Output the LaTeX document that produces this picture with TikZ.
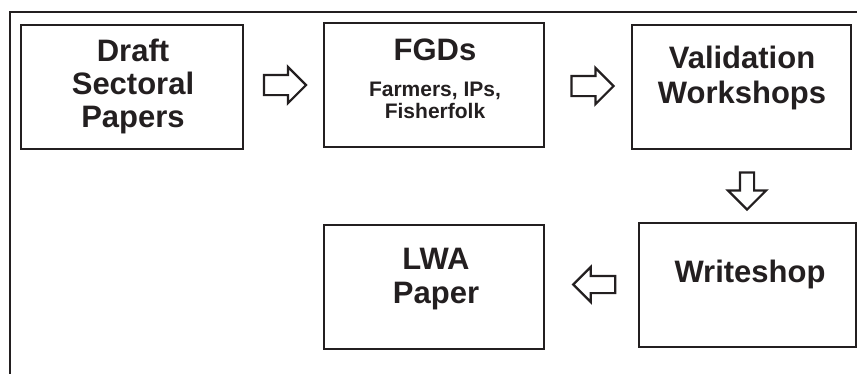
\documentclass[tikz,border=0pt]{standalone}
\usepackage{fontspec}
\setmainfont{Liberation Sans}
\usetikzlibrary{shapes.arrows}
\definecolor{ink}{RGB}{35,31,32}
\tikzset{
  stagebox/.style={draw=ink, line width=2pt, rectangle, inner sep=0pt, minimum width=#1, minimum height=124pt},
  big/.style={text=ink, anchor=base, inner sep=0pt, font=\fontsize{31}{34}\selectfont\bfseries},
  small/.style={text=ink, anchor=base, inner sep=0pt, font=\fontsize{21}{22}\selectfont\bfseries},
  blockarrow/.style={draw=ink, line width=2.2pt, fill=white, single arrow, single arrow head indent=0pt, inner sep=0pt},
  frameline/.style={draw=ink, line width=2.5pt}
}
\begin{document}
\begin{tikzpicture}[x=1pt,y=-1pt]
\useasboundingbox (0,0) rectangle (857,373);
% outer frame (top and left only)
\coordinate (fTR) at (858,12);
\coordinate (fTL) at (10,12);
\coordinate (fBL) at (10,374);
\draw[frameline] (fTR) -- (fTL) -- (fBL);
% boxes
\node[stagebox=222pt] (draft) at (132,87) {};
\node[stagebox=220pt] (fgd)   at (434,85) {};
\node[stagebox=219pt] (valid) at (741.5,87) {};
\node[stagebox=217pt] (write) at (747.5,285) {};
\node[stagebox=220pt] (lwa)   at (434,287) {};
% texts
\node[big] (t1a) at (133,61) {Draft};
\node[big] (t1b) at (133,94) {Sectoral};
\node[big] (t1c) at (133,127) {Papers};
\node[big] (t2a) at (435,60) {FGDs};
\node[small] (t2b) at (435,96) {Farmers, IPs,};
\node[small] (t2c) at (435,118) {Fisherfolk};
\node[big] (t3a) at (742,68) {Validation};
\node[big] (t3b) at (742,103) {Workshops};
\node[big] (t4a) at (750,282) {Writeshop};
\node[big] (t5a) at (436,269) {LWA};
\node[big] (t5b) at (436,303) {Paper};
% block arrows
\node[blockarrow, minimum height=42pt, inner ysep=9pt, single arrow head extend=8pt] (a1) at (280,85) {};
\node[blockarrow, minimum height=42pt, inner ysep=9pt, single arrow head extend=8pt] (a2) at (587.5,86) {};
\node[blockarrow, shape border rotate=270, minimum height=37pt, inner xsep=6pt, inner ysep=6pt, single arrow head extend=12pt] (a3) at (747,187.5) {};
\node[blockarrow, shape border rotate=180, minimum height=42pt, inner ysep=7.5pt, single arrow head extend=9pt] (a4) at (598.5,284.5) {};
\end{tikzpicture}
\end{document}
